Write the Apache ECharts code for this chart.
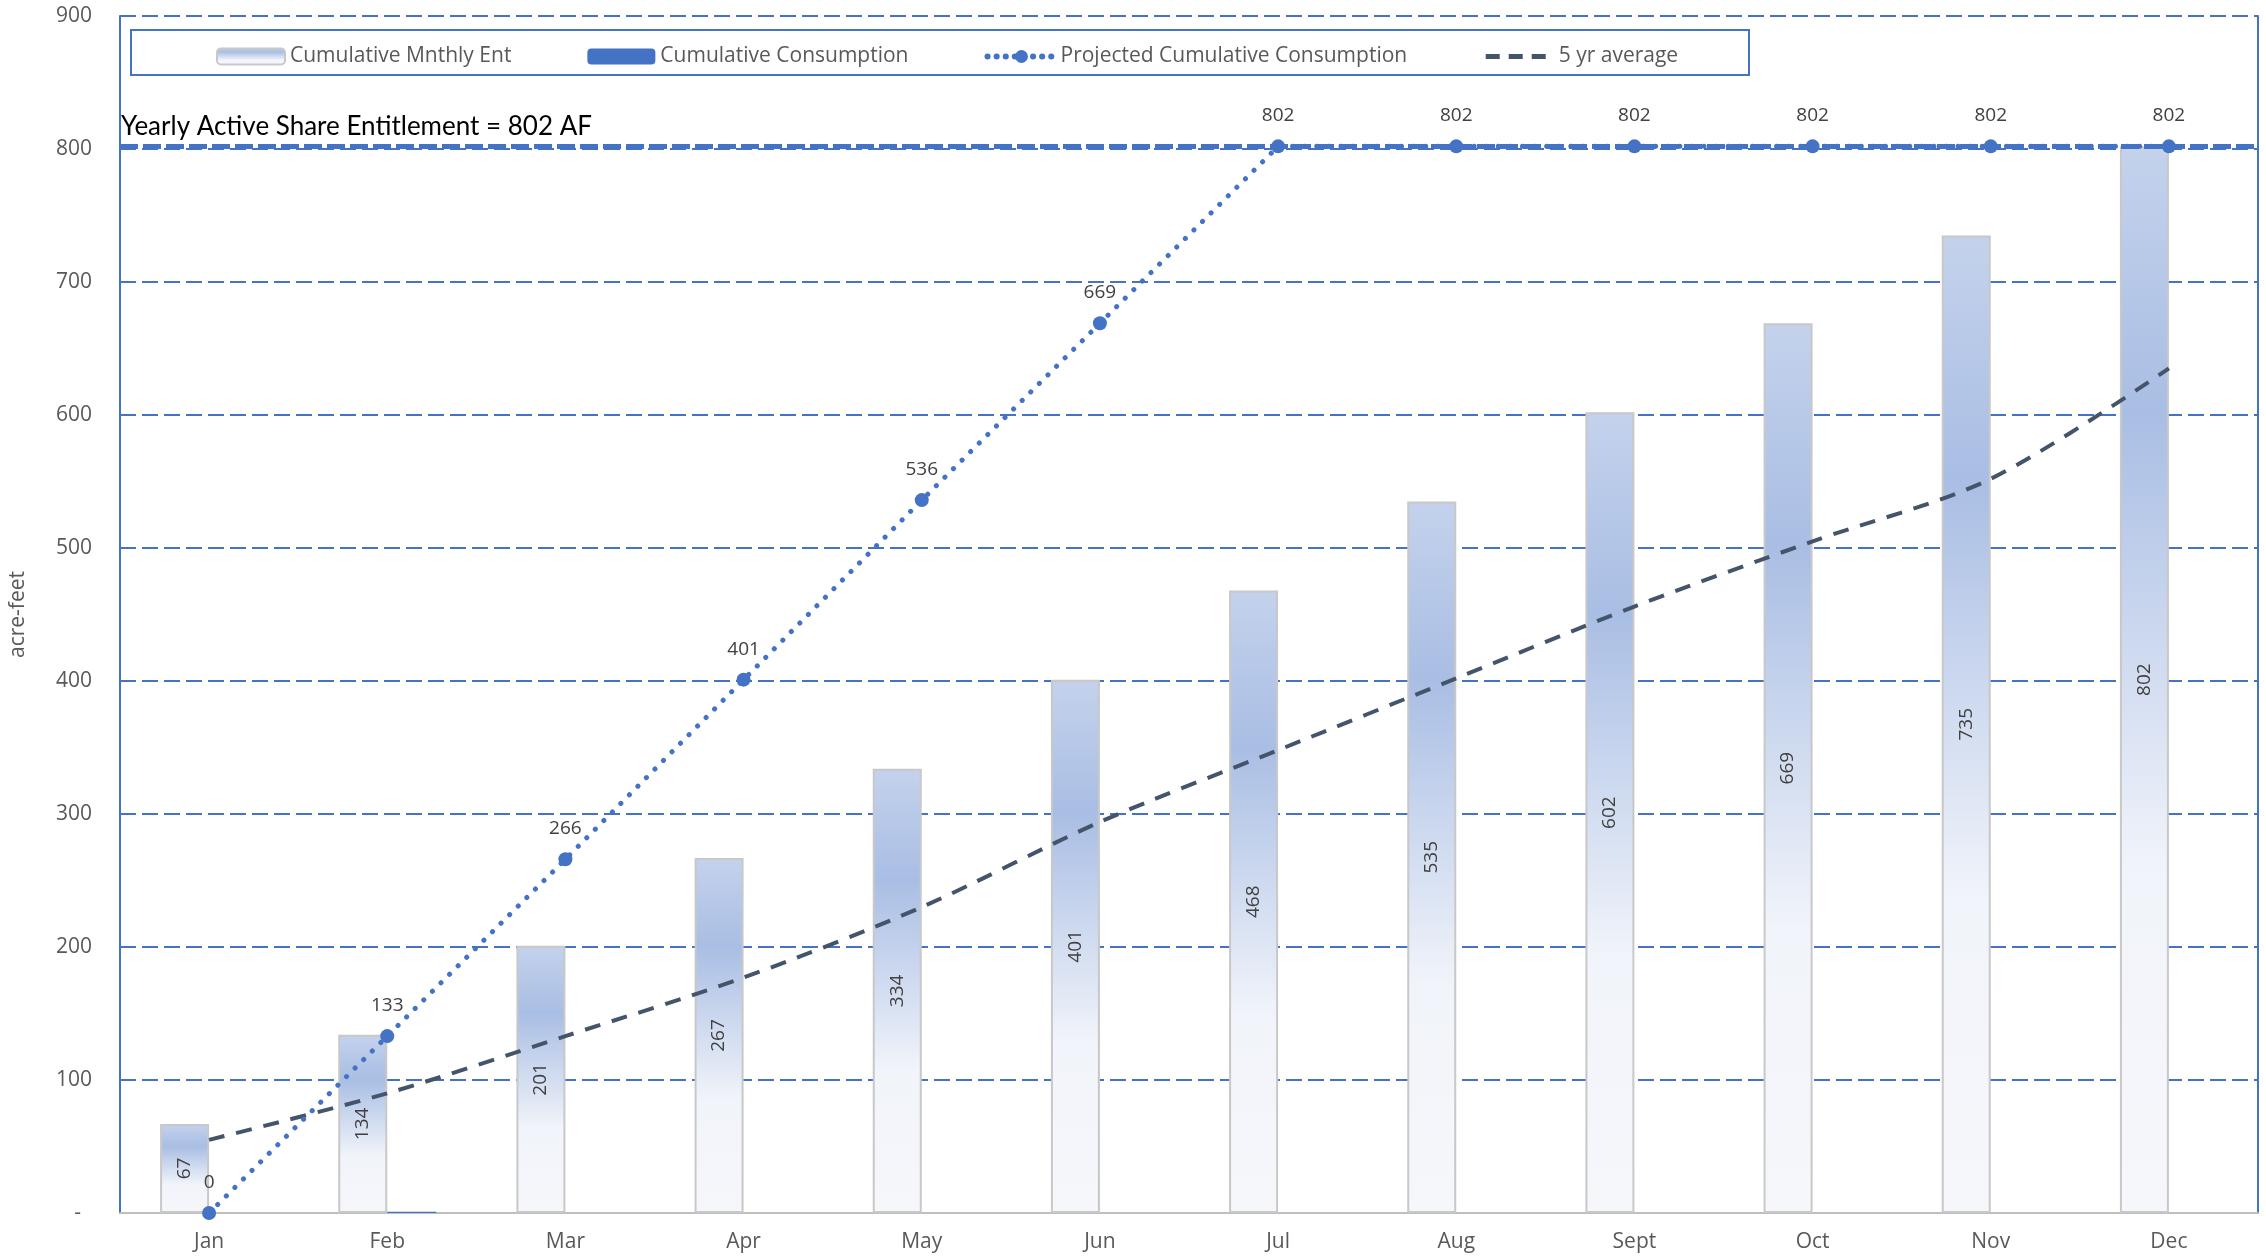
<!DOCTYPE html>
<html>
<head>
<meta charset="utf-8">
<script src="https://cdn.jsdelivr.net/npm/echarts@6/dist/echarts.min.js"></script>
<style>
html,body{margin:0;padding:0;background:#fff;}
#chart{width:2266px;height:1260px;}
</style>
</head>
<body>
<div id="chart"></div>
<script>
const months = ['Jan','Feb','Mar','Apr','May','Jun','Jul','Aug','Sept','Oct','Nov','Dec'];
const monthlyEnt = [67,134,201,267,334,401,468,535,602,669,735,802];
const consumption = [0,1,0,0,0,0,0,0,0,0,0,0];
const projected = [0,133,266,401,536,669,802,802,802,802,802,802];
const fiveYrAvg = [55,90,133,177,230,294,348,402,456,505,552,635];
const entitlement = 802;
const seriesNames = ['Cumulative Mnthly Ent','Cumulative Consumption','Projected Cumulative Consumption','5 yr average'];
const titleText = 'Yearly Active Share Entitlement = 802 AF';

const FONT = '"Open Sans", "Noto Sans", sans-serif';
const BLUE = '#4472c4';
const DARK = '#44546a';

const chart = echarts.init(document.getElementById('chart'));
const barGrad = new echarts.graphic.LinearGradient(0,0,0,1,[
  {offset:0, color:'#c4d2ec'},
  {offset:0.25, color:'#a9bee4'},
  {offset:0.68, color:'#f1f4fa'},
  {offset:1, color:'#f6f7fb'}
]);

chart.setOption({
  animation:false,
  textStyle:{fontFamily:FONT},
  title:{
    text:titleText, left:116, top:109,
    textStyle:{fontFamily:'Lato, "Open Sans", sans-serif', fontSize:26, fontWeight:'normal', color:'#000'}
  },
  graphic:[{
    type:'rect', z:3, shape:{x:131,y:30,width:1618,height:45},
    style:{fill:'#fff', stroke:BLUE, lineWidth:2}
  }],
  legend:{
    left:211, top:41, itemGap:76, itemWidth:68, itemHeight:16, z:5,
    textStyle:{fontFamily:FONT, fontSize:21, color:'#595959'},
    data:[
      {name:seriesNames[0]},
      {name:seriesNames[1]},
      {name:seriesNames[2], lineStyle:{width:6, type:[0.1,9], cap:'round'}},
      {name:seriesNames[3], itemStyle:{opacity:0}, lineStyle:{width:5, type:[14,9], opacity:1}}
    ]
  },
  grid:{left:116, right:8, top:16, bottom:47, containLabel:false},
  xAxis:{
    type:'category', data:months, boundaryGap:true,
    axisTick:{show:false},
    axisLine:{lineStyle:{color:'#bfbfbf', width:2}},
    axisLabel:{fontSize:21, color:'#595959', margin:19, fontFamily:FONT}
  },
  yAxis:[{
    type:'value', min:0, max:900, interval:100,
    name:'acre-feet', nameLocation:'middle', nameRotate:90, nameGap:91,
    nameTextStyle:{fontSize:21, color:'#595959', fontFamily:FONT},
    axisLine:{show:true, lineStyle:{color:BLUE, width:2}},
    axisTick:{show:false},
    axisLabel:{fontSize:21, color:'#595959', margin:28, fontFamily:FONT,
      formatter:v => v === 0 ? '-  ' : String(v)},
    splitLine:{show:true, lineStyle:{color:BLUE, width:2, type:[16,6]}}
  },{
    type:'value', min:0, max:900, interval:100, position:'right',
    axisLine:{show:true, lineStyle:{color:BLUE, width:2}},
    axisTick:{show:false}, axisLabel:{show:false}, splitLine:{show:false}
  }],
  series:[{
    name:seriesNames[0], type:'bar', data:monthlyEnt, barWidth:49, barGap:'0%',
    itemStyle:{color:barGrad, borderColor:'#c8c8c8', borderWidth:2},
    label:{show:true, position:'inside', rotate:90, fontSize:19, color:'#404040', fontFamily:FONT},
    z:2
  },{
    name:seriesNames[1], type:'bar', data:consumption, barWidth:49, barGap:'0%',
    itemStyle:{color:BLUE}, z:2
  },{
    name:seriesNames[2], type:'line', data:projected,
    symbol:'circle', symbolSize:14, itemStyle:{color:BLUE},
    lineStyle:{color:BLUE, width:5, type:[0.1,12], cap:'round'},
    label:{show:true, position:'top', distance:14, fontSize:19, color:'#404040', fontFamily:FONT},
    z:4,
    markLine:{
      symbol:'none', silent:true, label:{show:false},
      lineStyle:{color:BLUE, width:5, type:[18,5]},
      data:[{yAxis:entitlement}]
    }
  },{
    name:seriesNames[3], type:'line', data:fiveYrAvg, smooth:0.3,
    symbol:'none', itemStyle:{color:DARK},
    lineStyle:{color:DARK, width:4, type:[16,12]},
    z:3
  }]
});
</script>
</body>
</html>
